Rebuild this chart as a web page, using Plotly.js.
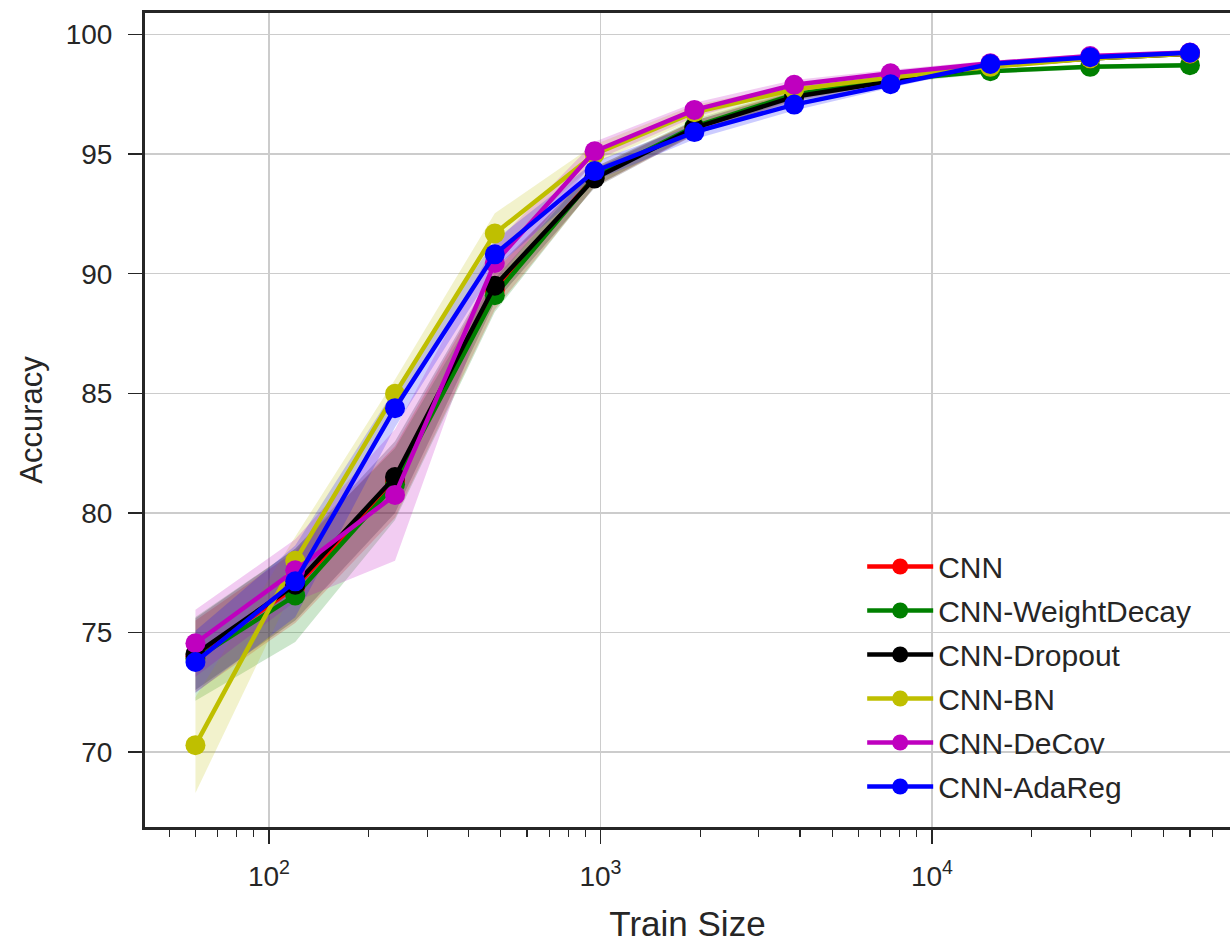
<!DOCTYPE html>
<html>
<head>
<meta charset="utf-8">
<script src="https://cdn.plot.ly/plotly-3.0.1.min.js"></script>
<style>html,body{margin:0;padding:0;background:#fff;}#chart{width:1230px;height:943px;}</style>
</head>
<body>
<div id="chart"></div>
<script>
// Train sizes (x)
const trainSize = [60, 120, 240, 480, 960, 1920, 3840, 7500, 15000, 30000, 60000];

// Mean accuracy per method
const cnnMean     = [74.0, 76.9, 81.3, 89.3, 94.05, 96.1, 97.45, 98.1, 98.7, 99.05, 99.2];
const wdMean      = [73.9, 76.55, 81.2, 89.1, 94.05, 96.15, 97.5, 98.1, 98.47, 98.65, 98.72];
const dropoutMean = [74.1, 77.0, 81.5, 89.5, 93.98, 96.1, 97.4, 98.05, 98.7, 99.0, 99.2];
const bnMean      = [70.29, 78.0, 84.98, 91.68, 95.0, 96.75, 97.7, 98.2, 98.65, 99.0, 99.2];
const decovMean   = [74.55, 77.6, 80.75, 90.45, 95.12, 96.85, 97.9, 98.38, 98.8, 99.1, 99.25];
const adaregMean  = [73.77, 77.14, 84.38, 90.81, 94.29, 95.92, 97.07, 97.92, 98.77, 99.05, 99.24];

// Standard deviation (half-width of shaded band)
const cnnStd     = [1.5, 1.5, 1.5, 0.8, 0.4, 0.3, 0.2, 0.15, 0.1, 0.1, 0.1];
const wdStd      = [1.75, 1.95, 1.5, 0.7, 0.4, 0.3, 0.2, 0.15, 0.1, 0.1, 0.1];
const dropoutStd = [1.5, 1.5, 1.5, 0.7, 0.4, 0.3, 0.2, 0.15, 0.1, 0.1, 0.1];
const bnStd      = [2.0, 1.0, 0.6, 0.85, 0.4, 0.3, 0.2, 0.15, 0.1, 0.1, 0.1];
const decovStd   = [1.4, 1.3, 2.75, 0.8, 0.4, 0.3, 0.2, 0.15, 0.1, 0.1, 0.1];
const adaregStd  = [1.3, 1.5, 0.8, 0.6, 0.4, 0.3, 0.25, 0.15, 0.1, 0.1, 0.1];

const seriesNames = ['CNN', 'CNN-WeightDecay', 'CNN-Dropout', 'CNN-BN', 'CNN-DeCov', 'CNN-AdaReg'];
const xTickVals = [100, 1000, 10000];
const xTickText = ['10<sup>2</sup>', '10<sup>3</sup>', '10<sup>4</sup>'];
const yTickVals = [70, 75, 80, 85, 90, 95, 100];

const means = [cnnMean, wdMean, dropoutMean, bnMean, decovMean, adaregMean];
const stds = [cnnStd, wdStd, dropoutStd, bnStd, decovStd, adaregStd];
const colors = ['#ff0000', '#008000', '#000000', '#bfbf00', '#bf00bf', '#0000ff'];
const fills = ['rgba(255,0,0,0.2)', 'rgba(0,128,0,0.2)', 'rgba(0,0,0,0.2)',
               'rgba(191,191,0,0.2)', 'rgba(191,0,191,0.2)', 'rgba(0,0,255,0.2)'];

const traces = [];
for (let i = 0; i < means.length; i++) {
  const up = means[i].map((m, k) => m + stds[i][k]);
  const lo = means[i].map((m, k) => m - stds[i][k]);
  traces.push({x: trainSize, y: up, type: 'scatter', mode: 'lines',
    line: {width: 0, color: colors[i]}, showlegend: false, hoverinfo: 'skip'});
  traces.push({x: trainSize, y: lo, type: 'scatter', mode: 'lines', fill: 'tonexty',
    fillcolor: fills[i], line: {width: 0, color: colors[i]}, showlegend: false, hoverinfo: 'skip'});
}
for (let i = 0; i < means.length; i++) {
  traces.push({x: trainSize, y: means[i], type: 'scatter', mode: 'lines+markers',
    name: seriesNames[i], legendgroup: 'g' + i,
    line: {color: colors[i], width: 4.5}, marker: {color: colors[i], size: 20}});
}

const FAM = 'Liberation Sans, Arial, sans-serif';
const axisFont = {family: FAM, size: 28, color: '#262626'};

const layout = {
  width: 1230, height: 943,
  margin: {l: 145, r: 0, t: 13, b: 116},
  paper_bgcolor: '#ffffff', plot_bgcolor: '#ffffff',
  showlegend: true,
  legend: {x: 0.661, y: 0.352, xanchor: 'left', yanchor: 'top',
    bgcolor: 'rgba(0,0,0,0)', borderwidth: 0, tracegroupgap: 2,
    font: {family: FAM, size: 30, color: '#262626'},
    itemwidth: 66, itemsizing: 'trace'},
  xaxis: {
    type: 'log', range: [1.626, 4.899],
    tickvals: xTickVals, ticktext: xTickText,
    tickfont: axisFont, ticklabelstandoff: 8,
    ticks: 'outside', ticklen: 14, tickwidth: 1.5, tickcolor: '#262626',
    showgrid: true, gridcolor: '#cccccc', gridwidth: 1.5,
    showline: true, linecolor: '#262626', linewidth: 3, mirror: true,
    zeroline: false,
    minor: {ticks: 'outside', ticklen: 7, tickwidth: 1.2, tickcolor: '#262626', dtick: 'D1', showgrid: false},
    title: {text: 'Train Size', font: {family: FAM, size: 35, color: '#262626'}, standoff: 22}
  },
  yaxis: {
    range: [66.87, 100.9],
    tickvals: yTickVals,
    tickfont: axisFont, ticklabelstandoff: 10,
    ticks: 'outside', ticklen: 14, tickwidth: 1.5, tickcolor: '#262626',
    showgrid: true, gridcolor: '#cccccc', gridwidth: 1.5,
    showline: true, linecolor: '#262626', linewidth: 3, mirror: false,
    zeroline: false,
    title: {text: 'Accuracy', font: {family: FAM, size: 31, color: '#262626'}, standoff: 14}
  }
};

Plotly.newPlot('chart', traces, layout, {displayModeBar: false, staticPlot: true});
</script>
</body>
</html>
